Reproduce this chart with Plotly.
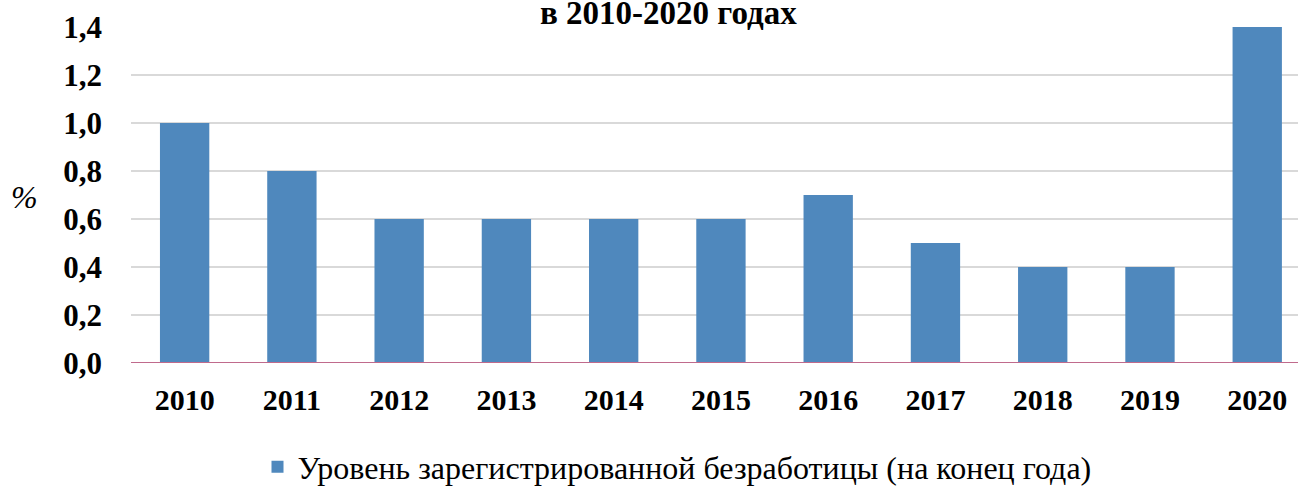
import plotly.graph_objects as go

years = ["2010", "2011", "2012", "2013", "2014", "2015", "2016", "2017", "2018", "2019", "2020"]
values = [1.0, 0.8, 0.6, 0.6, 0.6, 0.6, 0.7, 0.5, 0.4, 0.4, 1.4]
series_name = "Уровень зарегистрированной безработицы (на конец года)"
title_line = "в 2010-2020 годах"
y_ticks = [0, 0.2, 0.4, 0.6, 0.8, 1.0, 1.2, 1.4]
y_tick_labels = ["0,0", "0,2", "0,4", "0,6", "0,8", "1,0", "1,2", "1,4"]

FONT = "Liberation Serif"

W, H = 1298, 486
L, T, B = 131, 27, 123
PW, PH = W - L, H - T - B

fig = go.Figure()
fig.add_trace(go.Bar(
    x=list(range(len(years))), y=values, name=series_name,
    marker=dict(color="#4F88BD", line=dict(width=0)),
    showlegend=True,
))

fig.update_layout(
    width=W, height=H,
    margin=dict(l=L, r=0, t=T, b=B, autoexpand=False),
    paper_bgcolor="white", plot_bgcolor="white",
    bargap=0.54,
    font=dict(family=FONT, color="black"),
    showlegend=True,
    legend=dict(orientation="h", x=(677 - L) / PW, xanchor="center",
                y=(H - B - 467) / PH, yanchor="middle",
                font=dict(size=32, family=FONT, color="black"),
                itemwidth=30, traceorder="normal"),
    xaxis=dict(
        range=[-0.5, 10.38], automargin=False,
        tickmode="array", tickvals=list(range(len(years))), ticktext=years,
        tickfont=dict(size=30, family=FONT, weight="bold"),
        showgrid=False, zeroline=False,
        showline=False, ticks="", ticklabelstandoff=16,
    ),
    yaxis=dict(
        range=[0, 1.4], automargin=False,
        tickmode="array", tickvals=y_ticks, ticktext=y_tick_labels,
        tickfont=dict(size=31, family=FONT, weight="bold"),
        showgrid=True, gridcolor="#D9D9D9", gridwidth=2,
        zeroline=False, showline=False, ticks="", ticklabelstandoff=28,
    ),
    shapes=[dict(type="line", xref="paper", yref="y", x0=0, x1=1, y0=0, y1=0,
                 line=dict(color="#C06A8C", width=2))],
    annotations=[
        dict(text=title_line, xref="paper", yref="paper", x=(668 - L) / PW, y=(H - B - 13) / PH,
             xanchor="center", yanchor="middle", showarrow=False,
             font=dict(size=33, family=FONT, weight="bold", color="black")),
        dict(text="<i>%</i>", xref="paper", yref="paper", x=(24 - L) / PW, y=(H - B - 197) / PH,
             xanchor="center", yanchor="middle", showarrow=False,
             font=dict(size=32, family=FONT, color="black")),
    ],
)

fig.write_html("out.html", config={"displayModeBar": False},
               post_script="document.body.style.margin='0px';")
